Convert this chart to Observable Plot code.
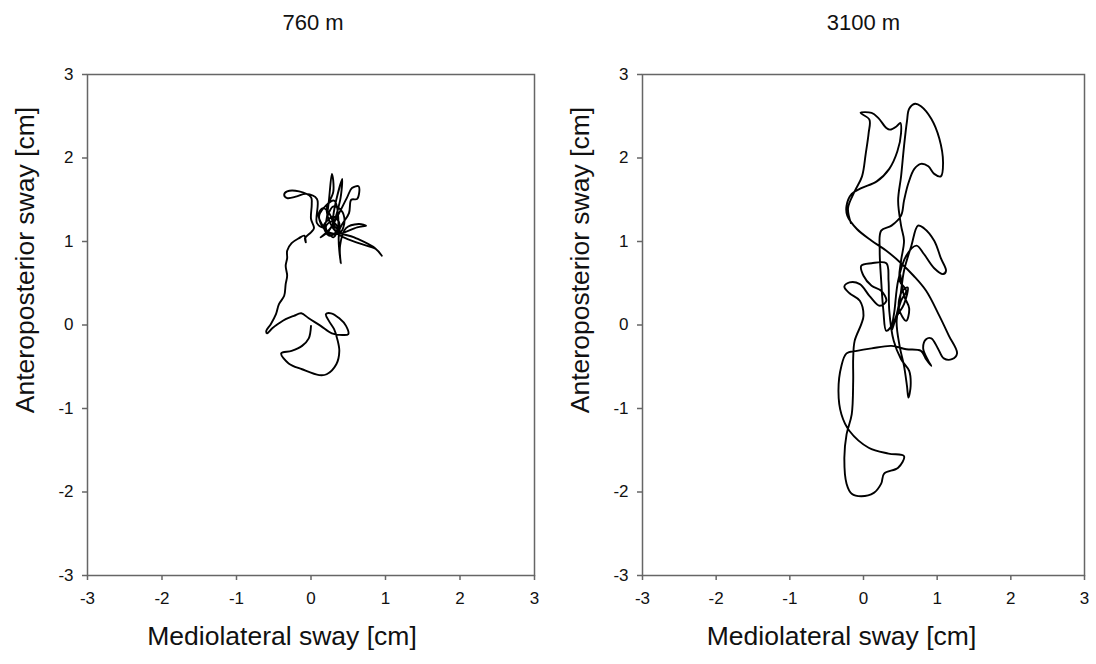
<!DOCTYPE html>
<html><head><meta charset="utf-8">
<script src="https://cdn.jsdelivr.net/npm/d3@7"></script>
<script src="https://cdn.jsdelivr.net/npm/@observablehq/plot@0.6"></script>
<style>
body{margin:0;background:#fff;}
#wrap{display:flex;width:1096px;height:664px;overflow:hidden;}
</style>
</head><body><div id="wrap"></div>
<script>
const tickValues = [-3, -2, -1, 0, 1, 2, 3];
const titles = ["760 m", "3100 m"];
const xLabel = "Mediolateral sway [cm]";
const yLabel = "Anteroposterior sway [cm]";

// 760 m trajectory (cm)
const lowX = [0.00,-0.03,-0.12,-0.26,-0.40,-0.30,-0.12,0.11,0.21,0.34,0.38,0.35,0.31,0.24,0.20,0.27,0.38,0.47,0.50,0.42,0.28,0.13,-0.03,-0.13,-0.23,-0.34,-0.43,-0.52,-0.59,-0.60,-0.54,-0.47,-0.43,-0.36,-0.34,-0.32,-0.34,-0.32,-0.32,-0.26,-0.16,-0.09,-0.07,-0.08,0.00,0.04,0.00,0.01,0.00,-0.16,-0.32,-0.36,-0.32,-0.19,-0.07,0.08,0.08,0.17,0.28,0.30,0.21,0.35,0.64,0.87,0.95,0.86,0.58,0.31,0.42,0.39,0.27,0.13,0.24,0.48,0.55,0.64,0.62,0.54,0.51,0.38,0.40,0.39,0.47,0.64,0.74,0.62,0.35,0.19,0.11,0.31,0.35,0.24,0.17,0.22,0.30,0.38,0.34,0.25,0.20,0.28,0.36,0.30,0.22,0.15,0.10,0.16,0.25,0.32,0.40,0.45,0.40,0.30,0.22];
const lowY = [-0.01,-0.16,-0.25,-0.31,-0.34,-0.46,-0.53,-0.60,-0.59,-0.47,-0.31,-0.16,-0.05,0.05,0.13,0.14,0.08,-0.01,-0.11,-0.12,-0.10,-0.01,0.08,0.14,0.11,0.07,0.02,-0.04,-0.10,-0.07,0.01,0.13,0.25,0.35,0.49,0.59,0.71,0.80,0.89,0.98,1.04,1.07,0.99,1.04,1.11,1.16,1.27,1.45,1.53,1.60,1.60,1.56,1.52,1.54,1.57,1.51,1.22,1.17,1.81,1.60,1.37,1.10,0.98,0.91,0.83,0.92,1.05,1.15,1.75,1.49,1.17,1.05,1.13,1.52,1.64,1.66,1.51,1.50,1.34,1.13,0.74,0.95,1.16,1.21,1.19,1.17,1.09,1.14,1.31,1.49,1.13,1.07,1.19,1.25,1.30,1.22,1.10,1.08,1.18,1.24,1.16,1.05,1.12,1.20,1.32,1.40,1.33,1.18,1.12,1.25,1.38,1.42,1.30];

// 3100 m trajectory (cm)
const highX = [-0.17,-0.21,-0.12,-0.02,0.03,0.07,0.08,-0.04,0.11,0.20,0.31,0.36,0.45,0.50,0.51,0.46,0.35,0.18,-0.03,-0.16,-0.23,-0.22,-0.09,0.11,0.31,0.51,0.68,0.85,1.03,1.16,1.27,1.20,1.09,1.01,0.92,0.85,0.81,0.88,0.92,0.85,0.78,0.58,0.38,0.11,-0.09,-0.23,-0.30,-0.34,-0.30,-0.19,0.07,0.34,0.55,0.47,0.28,0.24,0.14,-0.03,-0.16,-0.23,-0.26,-0.23,-0.16,-0.14,-0.14,-0.12,-0.03,0.00,-0.05,-0.19,-0.26,-0.19,-0.05,0.08,0.22,0.31,0.24,0.11,0.00,-0.03,0.11,0.31,0.34,0.35,0.41,0.51,0.62,0.64,0.61,0.59,0.55,0.49,0.45,0.51,0.58,0.49,0.51,0.55,0.51,0.47,0.51,0.55,0.59,0.62,0.70,0.78,0.92,1.03,1.08,1.05,0.96,0.88,0.78,0.69,0.61,0.55,0.51,0.38,0.24,0.22,0.24,0.27,0.31,0.42,0.49,0.55,0.65,0.74,0.82,0.96,1.05,1.12,1.08,0.96,0.82,0.72,0.58,0.47,0.42,0.38,0.45,0.55,0.60,0.52,0.48,0.58,0.62,0.55,0.50];
const highY = [1.22,1.40,1.60,1.78,2.05,2.30,2.46,2.54,2.54,2.48,2.36,2.34,2.38,2.42,2.30,2.08,1.87,1.72,1.64,1.57,1.43,1.31,1.15,1.01,0.89,0.74,0.59,0.41,0.11,-0.13,-0.34,-0.41,-0.40,-0.28,-0.16,-0.17,-0.28,-0.43,-0.49,-0.41,-0.31,-0.29,-0.25,-0.28,-0.31,-0.34,-0.49,-0.79,-1.07,-1.27,-1.47,-1.54,-1.57,-1.71,-1.78,-1.90,-2.01,-2.05,-2.02,-1.90,-1.59,-1.31,-1.07,-0.67,-0.40,-0.19,0.01,0.11,0.29,0.38,0.46,0.51,0.49,0.35,0.23,0.29,0.41,0.47,0.59,0.71,0.74,0.74,0.53,0.17,-0.19,-0.41,-0.55,-0.73,-0.87,-0.73,-0.49,-0.25,0.05,0.29,0.41,0.53,0.77,1.01,1.19,1.49,1.78,2.14,2.44,2.59,2.65,2.62,2.47,2.23,1.94,1.78,1.81,1.90,1.93,1.87,1.70,1.49,1.31,1.19,1.13,0.89,0.53,0.17,-0.07,0.05,0.29,0.65,0.95,1.19,1.16,1.01,0.80,0.65,0.61,0.68,0.85,0.95,0.83,0.53,0.17,-0.07,0.10,0.25,0.45,0.40,0.20,0.05,0.20,0.35,0.60];

function toPoints(xs, ys) {
  const n = Math.min(xs.length, ys.length);
  return d3.range(n).map(i => ({x: xs[i], y: ys[i]}));
}

const fmt = d => String(d);
const font = "'Liberation Sans', Arial, sans-serif";

function panel(title, pts, ml, mr, labelDx, titleDx) {
  return Plot.plot({
    width: 548, height: 664,
    marginLeft: ml, marginRight: mr, marginTop: 74, marginBottom: 89,
    style: {fontFamily: font, fontSize: "17px", color: "#111", background: "#fff", overflow: "visible"},
    x: {domain: [-3, 3]},
    y: {domain: [-3, 3]},
    marks: [
      Plot.axisX({ticks: tickValues, tickFormat: fmt, tickSize: 5, tickPadding: 11, label: null, stroke: "#666", strokeWidth: 1.5, fontSize: 17, fill: "#111"}),
      Plot.axisY({ticks: tickValues, tickFormat: fmt, tickSize: 5, tickPadding: 9, label: null, stroke: "#666", strokeWidth: 1.5, fontSize: 17, fill: "#111"}),
      Plot.frame({stroke: "#666", strokeWidth: 1.5}),
      Plot.line(pts, {x: "x", y: "y", curve: "catmull-rom", stroke: "#000", strokeWidth: 1.9, strokeLinejoin: "round", strokeLinecap: "round"}),
      Plot.text([title], {frameAnchor: "top", dy: -60, dx: titleDx, fontSize: 22, fill: "#111"}),
      Plot.text([xLabel], {frameAnchor: "bottom", dy: 69, dx: labelDx, fontSize: 26.5, fill: "#111"}),
      Plot.text([yLabel], {frameAnchor: "left", textAnchor: "middle", rotate: -90, dx: -62, dy: -65, fontSize: 26.5, fill: "#111"})
    ]
  });
}

const wrap = document.getElementById("wrap");
wrap.append(panel(titles[0], toPoints(lowX, lowY), 87, 14, -29, 2));
wrap.append(panel(titles[1], toPoints(highX, highY), 94, 12, -22, 0));
</script>
</body></html>
